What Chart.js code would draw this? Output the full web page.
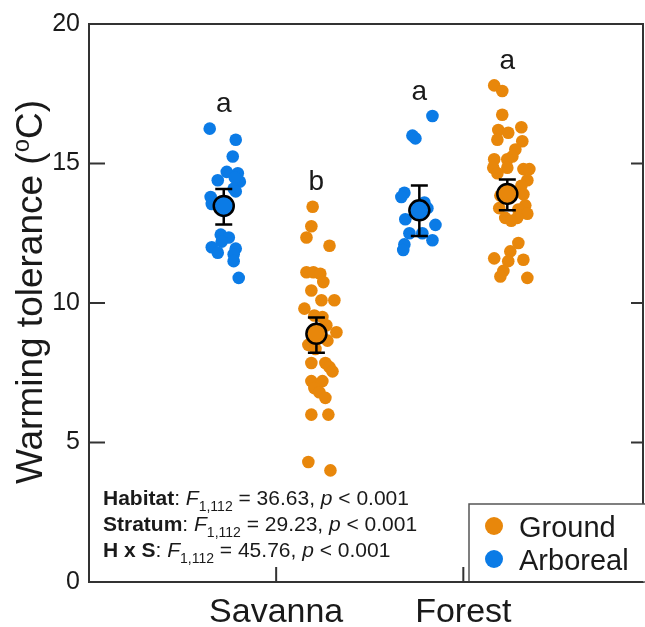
<!DOCTYPE html>
<html>
<head>
<meta charset="utf-8">
<script src="https://cdn.jsdelivr.net/npm/chart.js@4.4.1/dist/chart.umd.min.js"></script>
<style>
  html, body { margin: 0; padding: 0; background: #fff; }
</style>
</head>
<body>
<canvas id="chart" width="645" height="627"></canvas>
<script>
// ---- data ----
const habitats = ['Savanna', 'Forest'];
const strata = ['Ground', 'Arboreal'];
const groups = ['savArb', 'savGround', 'forArb', 'forGround'];
const groupStratum = ['Arboreal', 'Ground', 'Arboreal', 'Ground'];

const savArbValues = [16.25, 15.85, 15.25, 14.7, 14.65, 14.4, 14.35, 14.5, 14.1, 14.0, 13.8, 13.55, 13.3, 12.45, 12.35, 12.2, 12.0, 11.95, 11.8, 11.75, 11.5, 10.9];
const savArbJitter = [-0.075, 0.064, 0.048, 0.016, 0.075, -0.032, 0.086, 0.059, 0.053, 0.064, -0.07, -0.064, 0, -0.016, 0.027, -0.011, -0.064, 0.064, -0.032, 0.053, 0.053, 0.08];

const savGroundValues = [13.45, 12.75, 12.35, 12.05, 11.1, 11.1, 11.05, 10.75, 10.45, 10.1, 10.1, 9.8, 9.55, 9.5, 9.2, 8.95, 8.9, 8.65, 8.5, 8.35, 7.85, 7.85, 7.7, 7.55, 7.2, 7.2, 6.95, 6.8, 6.6, 6.0, 6.0, 4.3, 4.0];
const savGroundJitter = [-0.02, -0.027, -0.053, 0.07, -0.053, -0.016, 0.021, 0.037, -0.027, 0.027, 0.096, -0.064, -0.011, 0.032, 0.053, 0.107, 0, 0.059, -0.043, -0.005, -0.027, 0.048, 0.07, 0.086, -0.027, 0.032, -0.011, 0.016, 0.048, -0.027, 0.064, -0.043, 0.075];

const forArbValues = [16.7, 16.0, 15.9, 13.95, 13.8, 13.6, 13.4, 13.3, 13.0, 12.8, 12.5, 12.5, 12.25, 12.1, 11.9];
const forArbJitter = [0.07, -0.037, -0.021, -0.08, -0.096, 0.027, 0.043, 0, -0.075, 0.086, -0.053, 0.016, 0.07, -0.08, -0.086];

const forGroundValues = [17.8, 17.6, 16.75, 16.3, 16.2, 16.1, 15.85, 15.8, 15.5, 15.25, 15.15, 15.15, 14.85, 14.85, 14.8, 14.8, 14.65, 14.4, 14.2, 14.0, 13.9, 13.85, 13.5, 13.4, 13.35, 13.2, 13.05, 13.05, 12.95, 12.15, 11.85, 11.6, 11.55, 11.5, 11.15, 10.95, 10.9];
const forGroundJitter = [-0.07, -0.027, -0.027, 0.075, -0.048, 0.005, -0.053, 0.08, 0.043, 0.027, -0.07, 0, -0.075, 0, 0.086, 0.118, -0.053, 0.107, 0.075, 0.005, 0.086, -0.037, 0.096, -0.043, 0.059, 0.107, -0.011, 0.053, 0.021, 0.059, 0.016, -0.07, 0.086, 0.005, -0.021, -0.037, 0.107];

// group means with error bars (same order as groups)
const groupMeans = [13.48, 8.9, 13.32, 13.91];
const groupLower = [12.81, 8.22, 12.4, 13.32];
const groupUpper = [14.09, 9.48, 14.21, 14.43];
const sigLetters = ['a', 'b', 'a', 'a'];

// ANOVA summary
const statFactors = ['Habitat', 'Stratum', 'H x S'];
const statF = [36.63, 29.23, 45.76];
const statDf = '1,112';
const statP = '< 0.001';

const yTicks = [0, 5, 10, 15, 20];

// ---- look ----
const FONT = '"Liberation Sans", Arial, Helvetica, sans-serif';
const colours = { Ground: '#E8870B', Arboreal: '#0B7BE6' };
const axisColour = '#333';
const textColour = '#1a1a1a';
// x position of each group centre on the linear x axis (Savanna = 1, Forest = 2)
const groupCentre = [0.72, 1.215, 1.765, 2.235];

const groupValues = [savArbValues, savGroundValues, forArbValues, forGroundValues];
const groupJitter = [savArbJitter, savGroundJitter, forArbJitter, forGroundJitter];

function pointsFor(stratum) {
  const pts = [];
  groups.forEach((g, gi) => {
    if (groupStratum[gi] !== stratum) return;
    groupValues[gi].forEach((v, i) => pts.push({ x: groupCentre[gi] + groupJitter[gi][i], y: v }));
  });
  return pts;
}

function drawRuns(ctx, x, y, runs) {
  let cx = x;
  runs.forEach(r => {
    ctx.font = r.font;
    ctx.fillText(r.text, cx, y + (r.dy || 0));
    cx += ctx.measureText(r.text).width;
  });
  return cx - x;
}
function runsWidth(ctx, runs) {
  return runs.reduce((w, r) => { ctx.font = r.font; return w + ctx.measureText(r.text).width; }, 0);
}

const decorations = {
  id: 'decorations',
  beforeDatasetDraw(chart, args) {
    if (args.index !== 2) return;
    // error bars go under the mean markers
    const ctx = chart.ctx, xs = chart.scales.x, ys = chart.scales.y;
    ctx.save();
    ctx.strokeStyle = '#000';
    ctx.lineWidth = 2.5;
    groups.forEach((g, i) => {
      const x = xs.getPixelForValue(groupCentre[i]);
      const y0 = ys.getPixelForValue(groupLower[i]);
      const y1 = ys.getPixelForValue(groupUpper[i]);
      ctx.beginPath();
      ctx.moveTo(x, y0); ctx.lineTo(x, y1);
      ctx.moveTo(x - 8.5, y0); ctx.lineTo(x + 8.5, y0);
      ctx.moveTo(x - 8.5, y1); ctx.lineTo(x + 8.5, y1);
      ctx.stroke();
    });
    ctx.restore();
  },
  afterDraw(chart) {
    const ctx = chart.ctx, xs = chart.scales.x, ys = chart.scales.y;
    const a = chart.chartArea;
    ctx.save();

    // frame
    ctx.strokeStyle = axisColour;
    ctx.lineWidth = 2;
    ctx.strokeRect(a.left, a.top, a.right - a.left, a.bottom - a.top);

    // inward ticks
    ctx.beginPath();
    yTicks.slice(1, -1).forEach(t => {
      const y = ys.getPixelForValue(t);
      ctx.moveTo(a.left, y); ctx.lineTo(a.left + 16, y);
      ctx.moveTo(a.right, y); ctx.lineTo(a.right - 12, y);
    });
    habitats.forEach((h, i) => {
      const x = xs.getPixelForValue(i + 1);
      ctx.moveTo(x, a.bottom); ctx.lineTo(x, a.bottom - 15);
    });
    ctx.stroke();

    // significance letters
    ctx.fillStyle = textColour;
    ctx.font = '28px ' + FONT;
    ctx.textAlign = 'center';
    ctx.textBaseline = 'middle';
    groups.forEach((g, i) => {
      const top = Math.max(...groupValues[i]);
      ctx.fillText(sigLetters[i], xs.getPixelForValue(groupCentre[i]), ys.getPixelForValue(top) - 24);
    });

    // ANOVA text
    ctx.textAlign = 'left';
    ctx.textBaseline = 'alphabetic';
    statFactors.forEach((f, i) => {
      drawRuns(ctx, a.left + 14, a.bottom - 77 + i * 26, [
        { text: f, font: 'bold 21px ' + FONT },
        { text: ': ', font: '21px ' + FONT },
        { text: 'F', font: 'italic 21px ' + FONT },
        { text: statDf, font: '14px ' + FONT, dy: 6 },
        { text: ' = ' + statF[i].toFixed(2) + ', ', font: '21px ' + FONT },
        { text: 'p', font: 'italic 21px ' + FONT },
        { text: ' ' + statP, font: '21px ' + FONT }
      ]);
    });

    // legend
    const lx = 469, ly = 504;
    ctx.fillStyle = '#fff';
    ctx.fillRect(lx, ly, chart.width - lx, a.bottom - ly);
    ctx.strokeStyle = '#555';
    ctx.lineWidth = 1.5;
    ctx.strokeRect(lx, ly, chart.width - lx + 5, a.bottom - ly);
    strata.forEach((s, i) => {
      const cy = 526 + i * 33;
      ctx.fillStyle = colours[s];
      ctx.beginPath();
      ctx.arc(494, cy, 9, 0, Math.PI * 2);
      ctx.fill();
      ctx.fillStyle = textColour;
      ctx.font = '29px ' + FONT;
      ctx.fillText(s, 519, cy + 11);
    });
    ctx.strokeStyle = axisColour;
    ctx.lineWidth = 2;
    ctx.beginPath();
    ctx.moveTo(a.left, a.bottom); ctx.lineTo(a.right, a.bottom);
    ctx.stroke();

    // y axis title with superscript o
    const runs = [
      { text: 'Warming tolerance (', font: '37px ' + FONT },
      { text: 'o', font: '24px ' + FONT, dy: -13 },
      { text: 'C)', font: '37px ' + FONT }
    ];
    ctx.translate(42, 292);
    ctx.rotate(-Math.PI / 2);
    ctx.fillStyle = textColour;
    ctx.textBaseline = 'alphabetic';
    drawRuns(ctx, -runsWidth(ctx, runs) / 2, 0, runs);

    ctx.restore();
  }
};

new Chart(document.getElementById('chart'), {
  type: 'scatter',
  data: {
    datasets: [
      {
        label: 'Ground',
        data: pointsFor('Ground'),
        backgroundColor: colours.Ground,
        pointRadius: 6.3,
        borderWidth: 0,
        order: 2
      },
      {
        label: 'Arboreal',
        data: pointsFor('Arboreal'),
        backgroundColor: colours.Arboreal,
        pointRadius: 6.3,
        borderWidth: 0,
        order: 1
      },
      {
        label: 'Mean',
        data: groups.map((g, i) => ({ x: groupCentre[i], y: groupMeans[i] })),
        backgroundColor: groupStratum.map(s => colours[s]),
        borderColor: '#000',
        borderWidth: 2.5,
        pointRadius: 10,
        order: 0
      }
    ]
  },
  options: {
    responsive: false,
    animation: false,
    devicePixelRatio: 1,
    layout: { autoPadding: false, padding: { top: 21, right: 2, left: 0, bottom: 0 } },
    plugins: { legend: { display: false }, tooltip: { enabled: false } },
    scales: {
      x: {
        type: 'linear',
        min: 0,
        max: 2.96,
        grid: { display: false, drawTicks: false },
        border: { display: false },
        afterBuildTicks: s => { s.ticks = habitats.map((h, i) => ({ value: i + 1 })); },
        afterFit: s => { s.height = 45; },
        ticks: {
          callback: v => habitats[v - 1],
          font: { family: FONT, size: 34 },
          color: textColour,
          padding: 10,
          maxRotation: 0
        }
      },
      y: {
        min: 0,
        max: 20,
        grid: { display: false, drawTicks: false },
        border: { display: false },
        afterBuildTicks: s => { s.ticks = yTicks.map(v => ({ value: v })); },
        afterFit: s => { s.width = 89; },
        ticks: {
          font: { family: FONT, size: 25 },
          color: textColour,
          padding: 9
        }
      }
    }
  },
  plugins: [decorations]
});
</script>
</body>
</html>
